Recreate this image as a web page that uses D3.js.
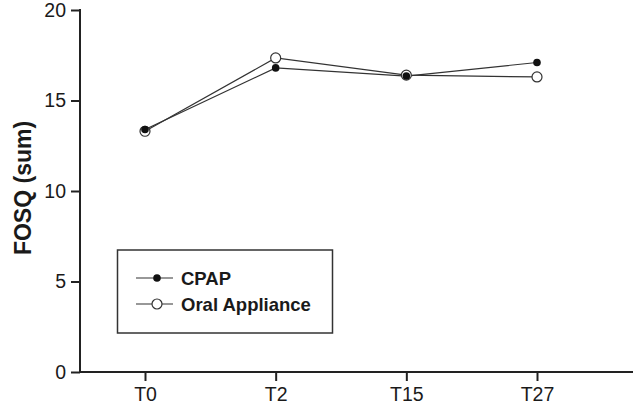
<!DOCTYPE html>
<html>
<head>
<meta charset="UTF-8">
<title>FOSQ</title>
<script src="https://d3js.org/d3.v7.min.js"></script>
<style>
  body {margin: 0; background: #fff;}
  text {font-family: "Liberation Sans", Arial, sans-serif; fill: #1a1a1a;}
  .tick text {font-family: "Liberation Sans Narrow", "Arial Narrow", "Liberation Sans", sans-serif;}
</style>
</head>
<body>
<div id="chart"></div>
<script>
var timepoints = ["T0", "T2", "T15", "T27"];
var cpap = [13.4, 16.8, 16.35, 17.1];
var oral = [13.3, 17.35, 16.4, 16.3];
var yTicks = [0, 5, 10, 15, 20];

var width = 634, height = 407;

var svg = d3.select("#chart").append("svg")
    .attr("width", width)
    .attr("height", height);

var x = d3.scalePoint()
    .domain(timepoints)
    .range([145, 537]);

var y = d3.scaleLinear()
    .domain([0, 20])
    .range([372, 10]);

// y axis
var yAxis = svg.append("g")
    .attr("transform", "translate(80,0)")
    .call(d3.axisLeft(y).tickValues(yTicks).tickSize(9).tickPadding(5));
yAxis.selectAll("line").attr("stroke", "#222").attr("stroke-width", 2);
yAxis.select(".domain").remove();
svg.append("line")
    .attr("x1", 80).attr("x2", 80)
    .attr("y1", y(20) - 1).attr("y2", y(0) + 1)
    .attr("stroke", "#222").attr("stroke-width", 2);

// x axis
var xAxis = svg.append("g")
    .attr("transform", "translate(0,372)")
    .call(d3.axisBottom(x).tickSize(9).tickPadding(6));
xAxis.selectAll("line").attr("stroke", "#222").attr("stroke-width", 2);
xAxis.select(".domain").remove();
svg.append("line")
    .attr("x1", 79).attr("x2", 633)
    .attr("y1", 372).attr("y2", 372)
    .attr("stroke", "#222").attr("stroke-width", 2);

svg.selectAll(".tick text").attr("fill", "#1a1a1a").style("font-size", "19.5px");

// y label
svg.append("text")
    .attr("transform", "translate(31,188) rotate(-90)")
    .attr("text-anchor", "middle")
    .style("font-size", "23px")
    .style("font-weight", "bold")
    .text("FOSQ (sum)");

var line = d3.line()
    .x(function(d, i) { return x(timepoints[i]); })
    .y(function(d) { return y(d); });

svg.append("path").datum(cpap)
    .attr("d", line)
    .attr("fill", "none").attr("stroke", "#333").attr("stroke-width", 1.2);
svg.append("path").datum(oral)
    .attr("d", line)
    .attr("fill", "none").attr("stroke", "#333").attr("stroke-width", 1.2);

svg.selectAll(".oa").data(oral).enter().append("circle")
    .attr("class", "oa")
    .attr("cx", function(d, i) { return x(timepoints[i]); })
    .attr("cy", function(d) { return y(d); })
    .attr("r", 5)
    .attr("fill", "#fff").attr("stroke", "#333").attr("stroke-width", 1.2);

svg.selectAll(".cp").data(cpap).enter().append("circle")
    .attr("class", "cp")
    .attr("cx", function(d, i) { return x(timepoints[i]); })
    .attr("cy", function(d) { return y(d); })
    .attr("r", 3.8)
    .attr("fill", "#111");

// legend
var legend = svg.append("g");
legend.append("rect")
    .attr("x", 117.5).attr("y", 250)
    .attr("width", 215).attr("height", 83)
    .attr("fill", "#fff").attr("stroke", "#333").attr("stroke-width", 1.5);

var items = [
  {name: "CPAP", filled: true, y: 278},
  {name: "Oral Appliance", filled: false, y: 304}
];
items.forEach(function(it) {
  legend.append("line")
      .attr("x1", 136).attr("x2", 173)
      .attr("y1", it.y).attr("y2", it.y)
      .attr("stroke", "#333").attr("stroke-width", 1.2);
  legend.append("circle")
      .attr("cx", 157).attr("cy", it.y)
      .attr("r", it.filled ? 3.8 : 5)
      .attr("fill", it.filled ? "#111" : "#fff")
      .attr("stroke", "#333").attr("stroke-width", it.filled ? 0 : 1.2);
  legend.append("text")
      .attr("x", 181).attr("y", it.y + 7)
      .style("font-size", "18.5px")
      .style("font-weight", "bold")
      .text(it.name);
});
</script>
</body>
</html>
